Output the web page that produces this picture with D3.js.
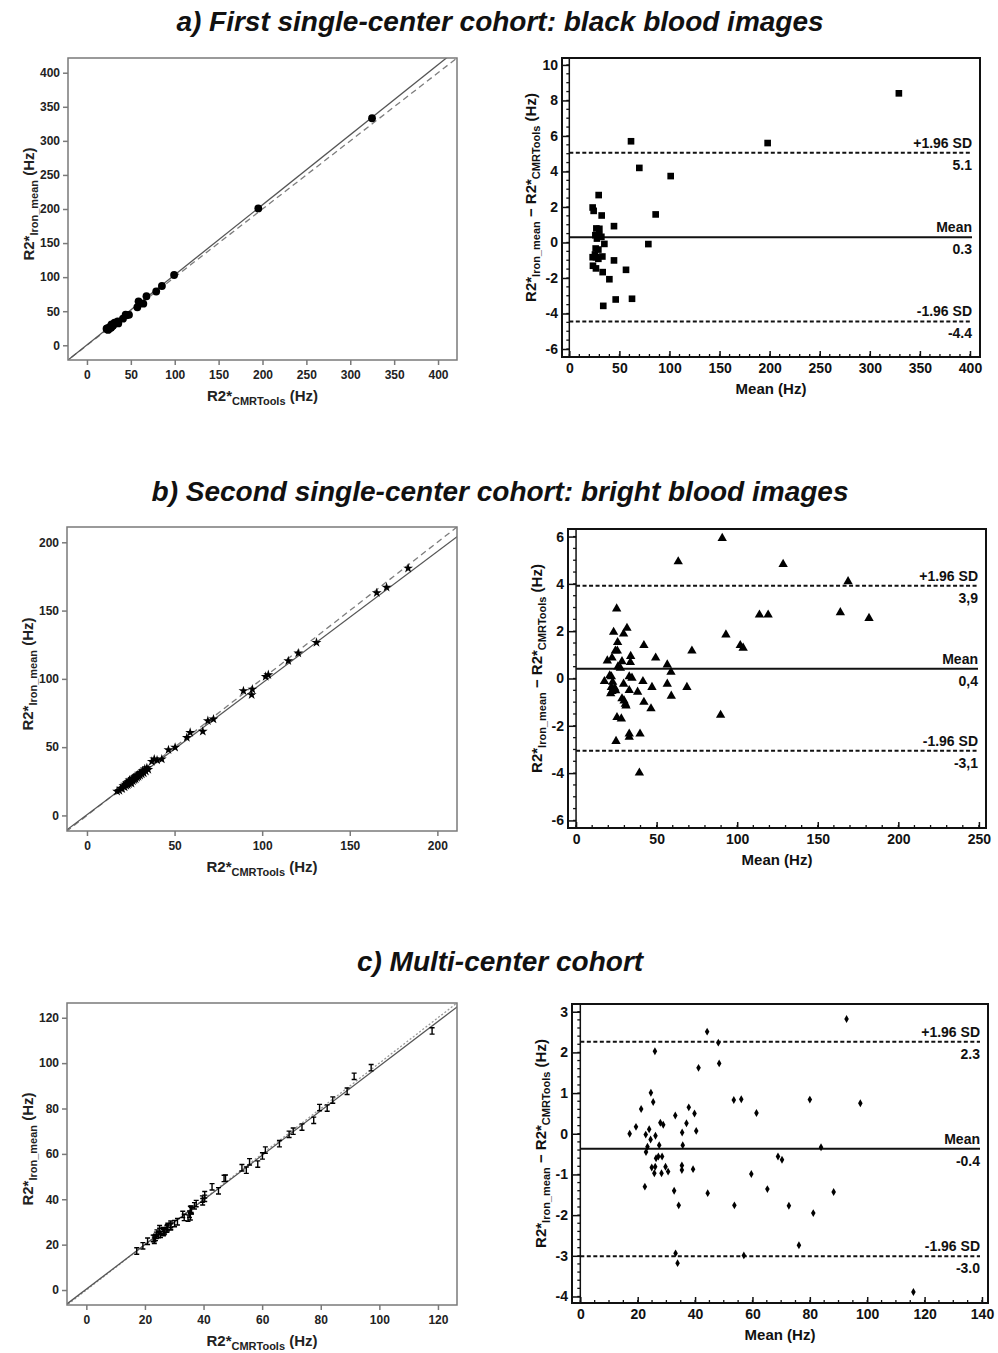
<!DOCTYPE html>
<html>
<head>
<meta charset="utf-8">
<script src="https://cdn.jsdelivr.net/npm/d3@7"></script>
<style>
  body { margin: 0; background: #fff; }
  text { font-family: "Liberation Sans", Arial, sans-serif; font-weight: bold; }
</style>
</head>
<body>
<div id="chart"></div>
<script>
(function(){

    // ---- data ----
    var titles = [
        "a) First single-center cohort: black blood images",
        "b) Second single-center cohort: bright blood images",
        "c) Multi-center cohort"
    ];

    // a) black blood
    var cmrA  = [324.8,58.8,195.2,67.8,99.3,28.0,22.3,23.4,31.5,85.4,44.1,26.6,29.6,25.8,29.8,31.8,27.5,35.0,78.9,26.5,29.2,25.9,23.7,27.0,33.4,29.5,45.1,24.3,27.3,34.1,57.4,41.0,47.9,64.2,35.7];
    var ironA = [333.2,64.5,200.8,72.0,103.1,30.6,24.3,25.2,33.1,87.0,45.1,27.4,30.4,26.2,30.2,32.2,27.7,35.0,78.9,26.1,28.8,25.3,22.9,26.2,32.6,28.5,44.1,22.9,25.9,32.5,55.8,39.0,44.7,61.0,32.1];
    var meanA = [329,61.6,198,69.9,101.2,29.3,23.3,24.3,32.3,86.2,44.6,27,30,26,30,32,27.6,35,78.9,26.3,29,25.6,23.3,26.6,33,29,44.6,23.6,26.6,33.3,56.6,40,46.3,62.6,33.9];
    var diffA = [8.4,5.7,5.6,4.2,3.74,2.67,1.97,1.78,1.52,1.58,0.92,0.79,0.77,0.41,0.41,0.32,0.22,-0.08,-0.09,-0.34,-0.4,-0.68,-0.83,-0.83,-0.79,-0.92,-1.01,-1.31,-1.46,-1.67,-1.54,-2.07,-3.21,-3.17,-3.57];
    var limitsA = [5.05, 0.3, -4.45];
    var limitTextA = ["5.1", "0.3", "-4.4"];
    var fitA = [0.6, 1.028];   // intercept, slope
    var sTicksA = [0,50,100,150,200,250,300,350,400];
    var baXTicksA = [0,50,100,150,200,250,300,350,400];
    var baYTicksA = [-6,-4,-2,0,2,4,6,8,10];

    // b) bright blood
    var cmrB  = [183.3,171,165.4,131,120.6,114.9,103.5,102,94.4,94,89.3,72.2,69,66.1,58.9,57,50.3,46.5,42.7,38.4,37,40,
                 17.2,18.5,19.3,20.1,20.8,21.5,21.9,22.4,22.8,23.2,23.6,24.0,24.3,24.7,25.1,25.4,25.8,26.2,26.6,27.0,27.4,27.8,28.2,28.6,29.0,29.4,29.9,30.3,30.8,31.3,31.8,32.4,33.0,33.6,34.2,35.0];
    var ironB = [181,167,163,126.6,118.8,113.2,103,101.7,92.4,88.3,91.2,70.5,69.3,61.5,60.7,57,49.8,48,41.2,41.2,39.5,40.5,
                 17.6,18.2,19.8,19.5,21.6,20.7,22.8,21.9,23.9,22.5,24.6,23.1,25.8,24.0,25.3,23.6,26.9,25.2,27.4,26.1,28.3,26.7,28.9,27.8,29.6,28.4,30.8,29.3,31.4,30.2,32.6,31.1,34.0,32.3,34.8,33.6];
    var meanB = [90.7,63.4,128.5,168.8,164,181.8,113.8,119.2,25.2,31.6,23.3,29.5,93,25.8,42.1,101.9,103.7,24.4,25.6,71.9,33.9,22.3,19.4,49.4,28.5,33.7,56.6,26,27.5,58.9,20.9,21.9,33,34.7,17.6,22.7,41.5,56.6,29.5,68.8,21.9,24,47.1,22.3,24.6,33,38.2,21.5,59.1,28.5,29.8,30.6,42.1,31,46.5,89.7,25.4,28.1,33,39.7,33,24.8,39.3];
    var diffB = [5.93,4.94,4.83,4.1,2.79,2.55,2.69,2.69,2.95,2.13,1.96,1.89,1.85,1.53,1.4,1.4,1.29,1.17,1.17,1.17,0.94,0.87,0.75,0.87,0.72,0.68,0.58,0.5,0.44,0.27,0.12,0.08,0.08,0.02,-0.12,-0.15,-0.12,-0.23,-0.23,-0.37,-0.37,-0.4,-0.37,-0.54,-0.51,-0.5,-0.57,-0.64,-0.74,-0.85,-0.94,-1.08,-1.0,-1.15,-1.27,-1.55,-1.64,-1.7,-2.34,-2.34,-2.48,-2.65,-3.99];
    var limitsB = [3.92, 0.41, -3.05];
    var limitTextB = ["3,9", "0,4", "-3,1"];
    var fitB = [0.5, 0.964];
    var sTicksB = [0,50,100,150,200];
    var baXTicksB = [0,50,100,150,200,250];
    var baYTicksB = [-6,-4,-2,0,2,4,6];

    // c) multi-center
    var cmrC  = [91.4,42.9,47.0,25.0,47.5,40.4,24.1,25.0,53.1,55.7,79.6,97.2,20.9,37.5,39.6,61.1,32.9,19.3,23.9,27.8,28.8,36.9,40.4,17.2,35.5,22.8,26.2,24.6,35.8,27.6,23.6,84.1,23.1,27.5,28.8,26.7,69.2,70.6,26.5,25.3,30.1,35.8,35.9,39.7,31.1,26.3,28.8,60.1,23.2,33.4,45.1,65.9,89.0,35.2,54.6,73.6,82.2,77.6,34.7,58.5,35.5,118.0];
    var ironC = [94.2,45.5,49.2,27.0,49.3,42.0,25.1,25.8,53.9,56.5,80.4,98.0,21.5,38.1,40.1,61.7,33.3,19.5,24.1,28.0,29.0,37.1,40.4,17.2,35.5,22.8,26.2,24.4,35.6,27.4,23.2,83.7,22.7,26.9,28.2,26.1,68.6,70.0,25.7,24.5,29.3,35.0,34.9,38.9,30.1,25.3,27.8,59.1,21.9,32.0,43.7,64.5,87.6,33.4,52.8,71.8,80.2,74.8,31.7,55.5,32.3,114.2];
    var meanC = [92.8,44.2,48.1,26,48.4,41.2,24.6,25.4,53.5,56.1,80,97.6,21.2,37.8,39.8,61.4,33.1,19.4,24,27.9,28.9,37,40.4,17.2,35.5,22.8,26.2,24.5,35.7,27.5,23.4,83.9,22.9,27.2,28.5,26.4,68.9,70.3,26.1,24.9,29.7,35.4,35.4,39.3,30.6,25.8,28.3,59.6,22.5,32.7,44.4,65.2,88.3,34.3,53.7,72.7,81.2,76.2,33.2,57,33.9,116.1];
    var diffC = [2.82,2.51,2.24,2.03,1.73,1.62,1.01,0.78,0.83,0.85,0.84,0.75,0.61,0.65,0.5,0.51,0.45,0.17,0.11,0.27,0.22,0.26,0.07,0,0.03,-0.02,-0.05,-0.14,-0.28,-0.28,-0.32,-0.33,-0.45,-0.56,-0.56,-0.6,-0.56,-0.64,-0.81,-0.83,-0.81,-0.78,-0.89,-0.87,-0.93,-0.97,-0.97,-0.99,-1.3,-1.4,-1.46,-1.36,-1.43,-1.76,-1.76,-1.77,-1.95,-2.74,-2.94,-2.99,-3.18,-3.89];
    var limitsC = [2.26, -0.37, -3.01];
    var limitTextC = ["2.3", "-0.4", "-3.0"];
    var fitC = [0.39, 0.983];
    var sTicksC = [0,20,40,60,80,100,120];
    var baXTicksC = [0,20,40,60,80,100,120,140];
    var baYTicksC = [-4,-3,-2,-1,0,1,2,3];

    var limitNames = ["+1.96 SD", "Mean", "-1.96 SD"];

    // ---- page ----
    var width = 998;
    var height = 1353;

    // plain hyphen minus, like the original
    var fmt = function(d){ return String(d); };

    var svg = d3.select("#chart")
        .append("svg")
            .attr("width", width)
            .attr("height", height);

    var titleY = [31, 501, 971];
    svg.selectAll("text.title")
        .data(titles)
        .enter()
        .append("text")
            .attr("class", "title")
            .attr("x", 500)
            .attr("y", function(d, i){ return titleY[i]; })
            .attr("text-anchor", "middle")
            .style("font-size", "28px")
            .style("font-style", "italic")
            .attr("fill", "#111")
            .text(function(d){ return d; });

    var clipCount = 0;

    // writes "R2*" + subscript pieces + tail into a text element
    function r2Label(text, parts) {
        parts.forEach(function(p){
            var t = text.append("tspan").text(p.t);
            if (p.sub) {
                t.style("font-size", "11px").attr("dy", 4);
            } else if (p.after) {
                t.attr("dy", -4);
            }
        });
    }

    function drawScatter(cfg) {
        var b = cfg.box;
        var g = svg.append("g").attr("transform", "translate(" + b.l + "," + b.t + ")");

        var x = d3.scaleLinear().domain(cfg.dom).range([0, b.w]);
        var y = d3.scaleLinear().domain(cfg.dom).range([b.h, 0]);

        var id = "clip" + (clipCount++);
        g.append("clipPath").attr("id", id)
            .append("rect").attr("width", b.w).attr("height", b.h);

        var xa = g.append("g")
            .attr("transform", "translate(0," + b.h + ")")
            .call(d3.axisBottom(x).tickValues(cfg.ticks).tickFormat(fmt).tickSize(5).tickPadding(5));
        var ya = g.append("g")
            .call(d3.axisLeft(y).tickValues(cfg.ticks).tickFormat(fmt).tickSize(5).tickPadding(3));
        [xa, ya].forEach(function(a){
            a.select(".domain").remove();
            a.selectAll("line").attr("stroke", "#7a7a7a").attr("stroke-width", 1.5);
            a.selectAll("text").style("font-size", "12px").attr("fill", "#222")
                .style("font-family", "'Liberation Sans', Arial, sans-serif");
        });

        var lines = g.append("g").attr("clip-path", "url(#" + id + ")");
        var d0 = cfg.dom[0] - 5, d1 = cfg.dom[1] + 5;
        lines.append("line")
            .attr("x1", x(d0)).attr("y1", y(d0))
            .attr("x2", x(d1)).attr("y2", y(d1))
            .attr("stroke", cfg.idColor)
            .attr("stroke-width", 1.3)
            .attr("stroke-dasharray", cfg.idDash);
        lines.append("line")
            .attr("x1", x(d0)).attr("y1", y(cfg.fit[0] + cfg.fit[1] * d0))
            .attr("x2", x(d1)).attr("y2", y(cfg.fit[0] + cfg.fit[1] * d1))
            .attr("stroke", "#555")
            .attr("stroke-width", 1.3);

        var pts = cfg.xs.map(function(v, i){ return [v, cfg.ys[i]]; });
        g.append("g").selectAll("path")
            .data(pts)
            .enter()
            .append("path")
                .attr("transform", function(d){ return "translate(" + x(d[0]) + "," + y(d[1]) + ")"; })
                .attr("d", cfg.marker)
                .attr("fill", cfg.markerFill || "#000")
                .attr("stroke", cfg.markerStroke || "none")
                .attr("stroke-width", 1.4);

        g.append("rect")
            .attr("width", b.w).attr("height", b.h)
            .attr("fill", "none")
            .attr("stroke", "#7a7a7a")
            .attr("stroke-width", 1.5);

        var xt = g.append("text")
            .attr("x", b.w / 2).attr("y", b.h + 41)
            .attr("text-anchor", "middle")
            .style("font-size", "15px")
            .attr("fill", "#222");
        r2Label(xt, [{t: "R2*"}, {t: "CMRTools", sub: true}, {t: " (Hz)", after: true}]);

        var yt = g.append("text")
            .attr("transform", "translate(-34," + (b.h / 2 - 5) + ") rotate(-90)")
            .attr("text-anchor", "middle")
            .style("font-size", "15px")
            .attr("fill", "#222");
        r2Label(yt, [{t: "R2*"}, {t: "Iron_mean", sub: true}, {t: " (Hz)", after: true}]);
    }

    function drawBA(cfg) {
        var b = cfg.box;
        var g = svg.append("g").attr("transform", "translate(" + b.l + "," + b.t + ")");

        var x = d3.scaleLinear().domain(cfg.xDom).range([0, b.w]);
        var y = d3.scaleLinear().domain(cfg.yDom).range([b.h, 0]);
        var x0 = x(0);

        // vertical axis at zero
        g.append("line")
            .attr("x1", x0).attr("x2", x0).attr("y1", 0).attr("y2", b.h)
            .attr("stroke", "#111").attr("stroke-width", 1.5);

        var yMinor = d3.range(cfg.yTicks[0], cfg.yTicks[cfg.yTicks.length - 1] + 1e-9, cfg.yMinor);
        g.append("g").selectAll("line")
            .data(yMinor)
            .enter()
            .append("line")
                .attr("x1", x0 - 3).attr("x2", x0)
                .attr("y1", function(d){ return y(d); })
                .attr("y2", function(d){ return y(d); })
                .attr("stroke", "#111").attr("stroke-width", 1.3);

        var ya = g.append("g")
            .attr("transform", "translate(" + x0 + ",0)")
            .call(d3.axisLeft(y).tickValues(cfg.yTicks).tickFormat(fmt).tickSize(x0).tickPadding(4));
        ya.select(".domain").remove();

        var xMinor = d3.range(cfg.xTicks[0], cfg.xTicks[cfg.xTicks.length - 1] + 1e-9, cfg.xMinor);
        g.append("g").selectAll("line")
            .data(xMinor)
            .enter()
            .append("line")
                .attr("x1", function(d){ return x(d); })
                .attr("x2", function(d){ return x(d); })
                .attr("y1", b.h).attr("y2", b.h - 3)
                .attr("stroke", "#111").attr("stroke-width", 1.3);

        var xa = g.append("g")
            .attr("transform", "translate(0," + b.h + ")")
            .call(d3.axisBottom(x).tickValues(cfg.xTicks).tickFormat(fmt).tickSizeInner(-6).tickSizeOuter(0).tickPadding(6));
        xa.select(".domain").remove();

        [xa, ya].forEach(function(a){
            a.selectAll("line").attr("stroke", "#111").attr("stroke-width", 1.5);
            a.selectAll("text").style("font-size", "14px").attr("fill", "#111")
                .style("font-family", "'Liberation Sans', Arial, sans-serif");
        });

        // mean and limits of agreement
        var right = b.w - 8;
        var lim = g.append("g");
        cfg.limits.forEach(function(v, i){
            lim.append("line")
                .attr("x1", x0).attr("x2", right)
                .attr("y1", y(v)).attr("y2", y(v))
                .attr("stroke", "#111")
                .attr("stroke-width", 2)
                .attr("stroke-dasharray", i === 1 ? null : "4,2.5");
            lim.append("text")
                .attr("x", right).attr("y", y(v) - 5)
                .attr("text-anchor", "end")
                .style("font-size", "14px")
                .attr("fill", "#111")
                .text(limitNames[i]);
            lim.append("text")
                .attr("x", right).attr("y", y(v) + 17)
                .attr("text-anchor", "end")
                .style("font-size", "14px")
                .attr("fill", "#111")
                .text(cfg.limitText[i]);
        });

        var pts = cfg.xs.map(function(v, i){ return [v, cfg.ys[i]]; });
        g.append("g").selectAll("path")
            .data(pts)
            .enter()
            .append("path")
                .attr("transform", function(d){ return "translate(" + x(d[0]) + "," + y(d[1]) + ")"; })
                .attr("d", cfg.marker)
                .attr("fill", "#000");

        g.append("rect")
            .attr("width", b.w).attr("height", b.h)
            .attr("fill", "none")
            .attr("stroke", "#111")
            .attr("stroke-width", 2);

        g.append("text")
            .attr("x", b.w / 2).attr("y", b.h + 37)
            .attr("text-anchor", "middle")
            .style("font-size", "15px")
            .attr("fill", "#111")
            .text("Mean (Hz)");

        var yt = g.append("text")
            .attr("transform", "translate(-26," + (b.h / 2 - 10) + ") rotate(-90)")
            .attr("text-anchor", "middle")
            .style("font-size", "15px")
            .attr("fill", "#111");
        r2Label(yt, [
            {t: "R2*"}, {t: "Iron_mean", sub: true}, {t: " \u2212 R2*", after: true},
            {t: "CMRTools", sub: true}, {t: " (Hz)", after: true}
        ]);
    }

    var errGlyph = "M-2.5,-3.2H2.5M0,-3.2V3.2M-2.5,3.2H2.5";

    // a
    drawScatter({
        box: {l: 68, t: 58, w: 389, h: 302},
        dom: [-21.6, 421.6], ticks: sTicksA,
        xs: cmrA, ys: ironA, fit: fitA,
        idColor: "#7d7d7d", idDash: "6,4",
        marker: d3.symbol(d3.symbolCircle, 48)()
    });
    drawBA({
        box: {l: 562, t: 58, w: 418, h: 299},
        xDom: [-7.3, 410], yDom: [-6.45, 10.39],
        xTicks: baXTicksA, yTicks: baYTicksA, xMinor: 10, yMinor: 0.5,
        xs: meanA, ys: diffA, limits: limitsA, limitText: limitTextA,
        marker: d3.symbol(d3.symbolSquare, 44)()
    });

    // b
    drawScatter({
        box: {l: 67, t: 527, w: 390, h: 304},
        dom: [-11.4, 211.2], ticks: sTicksB,
        xs: cmrB, ys: ironB, fit: fitB,
        idColor: "#7d7d7d", idDash: "6,4",
        marker: d3.symbol(d3.symbolStar, 30)()
    });
    drawBA({
        box: {l: 568, t: 529, w: 418, h: 299},
        xDom: [-5, 254.4], yDom: [-6.32, 6.32],
        xTicks: baXTicksB, yTicks: baYTicksB, xMinor: 10, yMinor: 0.5,
        xs: meanB, ys: diffB, limits: limitsB, limitText: limitTextB,
        marker: d3.symbol(d3.symbolTriangle, 38)()
    });

    // c
    drawScatter({
        box: {l: 67, t: 1003, w: 390, h: 302},
        dom: [-6.6, 126.5], ticks: sTicksC,
        xs: cmrC, ys: ironC, fit: fitC,
        idColor: "#9a9a9a", idDash: "2,2",
        marker: errGlyph, markerFill: "none", markerStroke: "#000"
    });
    drawBA({
        box: {l: 572, t: 1004, w: 416, h: 299},
        xDom: [-2.9, 142.1], yDom: [-4.16, 3.19],
        xTicks: baXTicksC, yTicks: baYTicksC, xMinor: 5, yMinor: 0.2,
        xs: meanC, ys: diffC, limits: limitsC, limitText: limitTextC,
        marker: d3.symbol(d3.symbolDiamond, 18)()
    });

})();
</script>
</body>
</html>
